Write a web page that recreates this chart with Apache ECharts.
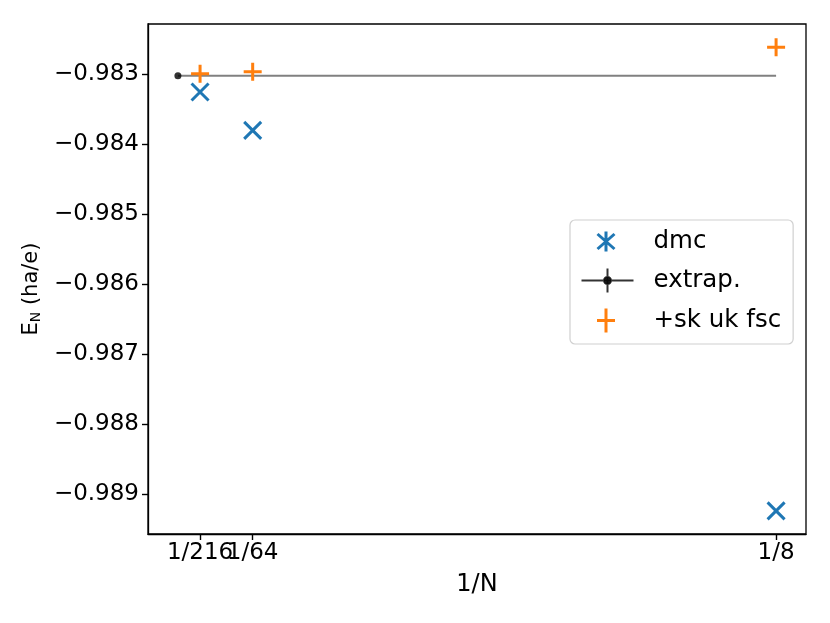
<!DOCTYPE html>
<html>
<head>
<meta charset="utf-8">
<script src="https://cdn.jsdelivr.net/npm/echarts@6/dist/echarts.min.js"></script>
<style>
html,body{margin:0;padding:0;background:#fff;}
#chart{width:830px;height:623px;}
</style>
</head>
<body>
<div id="chart"></div>
<script>
// ---- data ----
const xTickValues = [1/216, 1/64, 1/8];
const xTickLabels = ['1/216', '1/64', '1/8'];
const yTickValues = [-0.989, -0.988, -0.987, -0.986, -0.985, -0.984, -0.983];
const dmcX = [1/216, 1/64, 1/8];
const dmcY = [-0.98325, -0.98380, -0.98924];
const fscX = [1/216, 1/64, 1/8];
const fscY = [-0.98299, -0.98296, -0.98261];
const extrapX = [0];
const extrapY = [-0.98302];
const refLineX = [0, 1/8];

// ---- axis ranges (matplotlib-style 5% margins) ----
const allX = dmcX.concat(fscX, extrapX);
const allY = dmcY.concat(fscY, extrapY);
const xMinD = Math.min(...allX), xMaxD = Math.max(...allX);
const yMinD = Math.min(...allY), yMaxD = Math.max(...allY);
const xPad = (xMaxD - xMinD) * 0.05, yPad = (yMaxD - yMinD) * 0.05;

const FONT = 'DejaVu Sans';
const BLUE = '#1f77b4', ORANGE = '#ff7f0e';

const zip = (xs, ys) => xs.map((x, i) => [x, ys[i]]);
const xLabelFmt = v => { const i = xTickValues.findIndex(t => Math.abs(t - v) < 1e-9); return i >= 0 ? xTickLabels[i] : ''; };
// labels that touch each other are split over two stacked axes so none is dropped
const xLabelsA = xTickValues.filter((v, i) => i !== 1);
const xLabelsB = xTickValues.filter((v, i) => i === 1);

const labelStyle = {fontFamily: FONT, fontSize: 23, color: '#000', margin: 8, hideOverlap: false};

const chart = echarts.init(document.getElementById('chart'), null, {renderer: 'canvas'});
chart.setOption({
  animation: false,
  backgroundColor: '#fff',
  grid: {left: 148, right: 24, top: 24, bottom: 89, show: true, borderColor: '#000', borderWidth: 1.3, backgroundColor: 'transparent'},
  xAxis: [{
    type: 'value', position: 'bottom',
    min: xMinD - xPad, max: xMaxD + xPad,
    name: '1/N', nameLocation: 'middle', nameGap: 39,
    nameTextStyle: {fontFamily: FONT, fontSize: 24, color: '#000'},
    axisLine: {show: true, onZero: false, lineStyle: {color: '#000', width: 1.3}},
    splitLine: {show: false},
    axisTick: {show: true, customValues: xTickValues, length: 6, inside: false, lineStyle: {color: '#000', width: 1.4}},
    axisLabel: Object.assign({customValues: xLabelsA, formatter: xLabelFmt}, labelStyle)
  }, {
    type: 'value', position: 'bottom', offset: 0,
    min: xMinD - xPad, max: xMaxD + xPad,
    axisLine: {show: false, onZero: false},
    splitLine: {show: false},
    axisTick: {show: false},
    axisLabel: Object.assign({customValues: xLabelsB, formatter: xLabelFmt}, labelStyle)
  }],
  yAxis: {
    type: 'value',
    min: yMinD - yPad, max: yMaxD + yPad,
    name: '{a|E}{b|N}{a| (ha/e)}', nameLocation: 'middle', nameGap: 104, nameRotate: 90,
    nameTextStyle: {fontFamily: FONT, fontSize: 21, color: '#000', padding: [0, 20, 0, 0],
      rich: {a: {fontFamily: FONT, fontSize: 21, color: '#000'}, b: {fontFamily: FONT, fontSize: 14, color: '#000', verticalAlign: 'bottom', padding: [9, 0, 0, 0]}}},
    axisLine: {show: true, onZero: false, lineStyle: {color: '#000', width: 1.3}},
    splitLine: {show: false},
    axisTick: {show: true, customValues: yTickValues, length: 6, inside: false, lineStyle: {color: '#000', width: 1.4}},
    axisLabel: {customValues: yTickValues, margin: 9, hideOverlap: false,
      fontFamily: FONT, fontSize: 23, color: '#000',
      formatter: v => '\u2212' + Math.abs(v).toFixed(3)}
  },
  legend: {
    orient: 'vertical', left: 570, top: 220,
    padding: [9, 12, 10, 10],
    itemWidth: 67, itemHeight: 24, itemGap: 13.5,
    backgroundColor: '#fff', borderColor: '#d0d0d0', borderWidth: 1.2, borderRadius: 5,
    textStyle: {fontFamily: FONT, fontSize: 24.5, color: '#000'},
    selectedMode: false,
    data: [
      {name: 'dmc', icon: 'path://M0 12L0 12M67 12L67 12M16 4.5L33 19.5M33 4.5L16 19.5M24.5 2L24.5 22',
        itemStyle: {color: 'rgba(0,0,0,0)', borderColor: BLUE, borderWidth: 3}},
      {name: 'extrap.', icon: 'path://M0 12L52 12M26 0L26 24M67 12L67 12M29.5 12A3.5 3.5 0 1 1 22.5 12A3.5 3.5 0 1 1 29.5 12Z',
        itemStyle: {color: '#000', borderColor: '#000', borderWidth: 2}},
      {name: '+sk uk fsc', icon: 'path://M0 12L0 12M67 12L67 12M15.5 12L33.5 12M24.5 0L24.5 24',
        itemStyle: {color: 'rgba(0,0,0,0)', borderColor: ORANGE, borderWidth: 3}}
    ]
  },
  series: [
    {
      name: 'ref', type: 'line', z: 1, xAxisIndex: 0,
      data: zip(refLineX, refLineX.map(() => extrapY[0])),
      showSymbol: false, silent: true,
      lineStyle: {color: '#808080', width: 2}
    },
    {
      name: 'dmc', type: 'scatter', z: 3, xAxisIndex: 0,
      data: zip(dmcX, dmcY),
      symbol: 'path://M0 0L10 10M10 0L0 10', symbolSize: 17,
      itemStyle: {color: 'rgba(0,0,0,0)', borderColor: BLUE, borderWidth: 3, opacity: 1}
    },
    {
      name: 'extrap.', type: 'scatter', z: 3, xAxisIndex: 0,
      data: zip(extrapX, extrapY),
      symbol: 'circle', symbolSize: 7,
      itemStyle: {color: '#000'}
    },
    {
      name: '+sk uk fsc', type: 'scatter', z: 4, xAxisIndex: 0,
      data: zip(fscX, fscY),
      symbol: 'path://M5 0L5 10M0 5L10 5', symbolSize: 18,
      itemStyle: {color: 'rgba(0,0,0,0)', borderColor: ORANGE, borderWidth: 3, opacity: 1}
    }
  ]
});
</script>
</body>
</html>
